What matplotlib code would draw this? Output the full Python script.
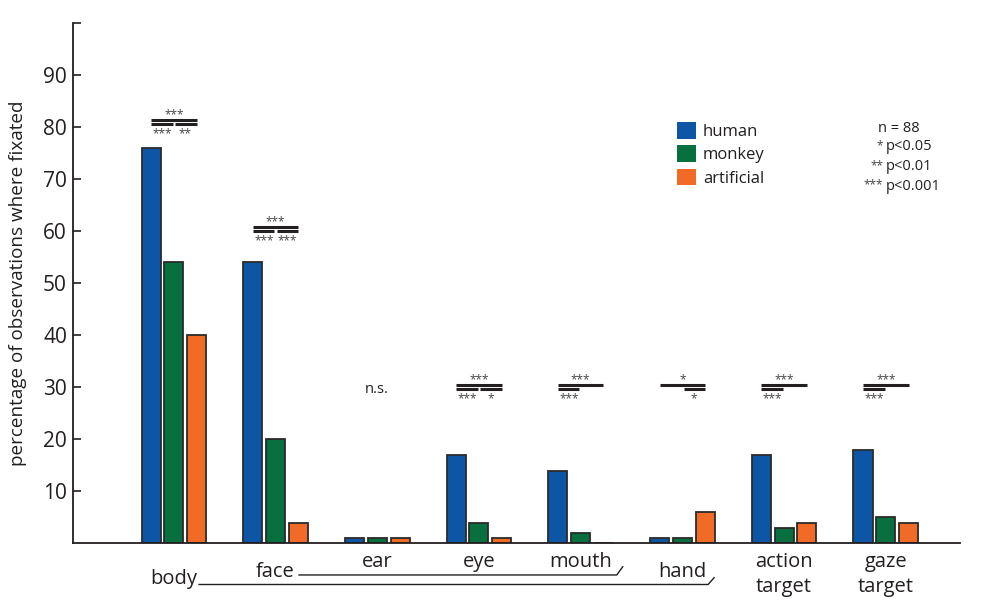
import numpy as np
import matplotlib
matplotlib.use("Agg")
import matplotlib.pyplot as plt
from matplotlib.patches import Patch

plt.rcParams['font.family'] = ['Open Sans', 'DejaVu Sans']

# data
regions = ["body", "face", "ear", "eye", "mouth", "hand", "action\ntarget", "gaze\ntarget"]
human = [76, 54, 1, 17, 14, 1, 17, 18]
monkey = [54, 20, 1, 4, 2, 1, 3, 5]
artificial = [40, 4, 1, 1, 0, 6, 4, 4]
series_names = ["human", "monkey", "artificial"]

# significance annotations: (group index, level, top, human-monkey, monkey-artificial)
sig_group = [0, 1, 3, 4, 5, 6, 7]
sig_level = [81.0, 60.4, 30.1, 30.1, 30.1, 30.1, 30.1]
sig_top = ["***", "***", "***", "***", "*", "***", "***"]
sig_hm = ["***", "***", "***", "***", None, "***", "***"]
sig_ma = ["**", "***", "*", None, "*", None, None]

colors = ["#0D56A6", "#08703E", "#F26B26"]
ink = "#231F20"

fig = plt.figure(figsize=(9.88, 6.0), dpi=100)
ax = fig.add_axes([0.0734, 0.0942, 0.8983, 0.8675])

x = np.arange(len(regions))
off = 0.224
w = 0.187
for k, vals in enumerate([human, monkey, artificial]):
    ax.bar(x + (k - 1) * off, vals, width=w, color=colors[k],
           edgecolor="#2b2b2b", linewidth=1.3, zorder=2)

ax.set_xlim(-0.996, 7.73)
ax.set_ylim(0, 100)
ax.set_yticks([10, 20, 30, 40, 50, 60, 70, 80, 90, 100])
ax.set_yticklabels(["10", "20", "30", "40", "50", "60", "70", "80", "90", ""])
ax.tick_params(axis="y", direction="in", length=6, width=1.2, color=ink,
               labelsize=15, pad=4, labelcolor=ink)
ax.set_xticks([])
for s in ["top", "right"]:
    ax.spines[s].set_visible(False)
for s in ["left", "bottom"]:
    ax.spines[s].set_color(ink)
    ax.spines[s].set_linewidth(1.3)

ax.set_ylabel("percentage of observations where fixated", fontsize=13.6, color=ink)
ax.yaxis.set_label_coords(-0.0513, 0.5)

# category labels under the axis
tr = ax.get_xaxis_transform()
label_y = [-0.0778, -0.0638, -0.0446, -0.0446, -0.0446, -0.0638, -0.0446, -0.0446]
for i, lab in enumerate(regions):
    lines = lab.split("\n")
    for j, ln in enumerate(lines):
        ax.text(i, label_y[i] - j * 0.048, ln, transform=tr, ha="center",
                va="baseline", fontsize=14.5, color=ink, clip_on=False)

# grouping brackets
ax.plot([0.248, 5.253, 5.312], [-0.0788, -0.0788, -0.0657], transform=tr,
        color=ink, lw=1.0, clip_on=False)
ax.plot([1.231, 4.355, 4.414], [-0.0605, -0.0605, -0.0446], transform=tr,
        color=ink, lw=1.0, clip_on=False)

# significance bars
star_col = "#444444"
gap = 0.012
for g, lvl, t, hm, ma in zip(sig_group, sig_level, sig_top, sig_hm, sig_ma):
    up = lvl + 0.38
    lo = lvl - 0.38
    ax.plot([g - off, g + off], [up, up], color=ink, lw=2.2, solid_capstyle="butt")
    ax.text(g, up + 0.3, t, ha="center", va="baseline", fontsize=8.5, color=star_col)
    if hm:
        ax.plot([g - off, g - gap], [lo, lo], color=ink, lw=2.2, solid_capstyle="butt")
        ax.text(g - off / 2, lo - 2.6, hm, ha="center", va="baseline",
                fontsize=8.5, color=star_col)
    if ma:
        ax.plot([g + gap, g + off], [lo, lo], color=ink, lw=2.2, solid_capstyle="butt")
        ax.text(g + off / 2, lo - 2.6, ma, ha="center", va="baseline",
                fontsize=8.5, color=star_col)

ax.text(2, 29.5, "n.s.", ha="center", va="center", fontsize=10.5, color=ink)

# legend
handles = [Patch(facecolor=c, edgecolor="none") for c in colors]
ax.legend(handles, series_names, loc="upper left",
          bbox_to_anchor=((677 - 72.5) / 887.5, (543.5 - 122) / 520.5),
          frameon=False, fontsize=12, handlelength=1.15, handleheight=1.15,
          handletextpad=0.4, labelspacing=0.33, borderpad=0, borderaxespad=0,
          labelcolor=ink)

# sample size and p-value key
fx = lambda px: px / 988
fy = lambda py: 1 - py / 600
fig.text(fx(899), fy(128), "n = 88", ha="center", va="center", fontsize=10.5, color=ink)
for stars, ptxt, py in zip(["*", "**", "***"], ["p<0.05", "p<0.01", "p<0.001"],
                           [147, 167, 186]):
    fig.text(fx(883), fy(py - 1), stars, ha="right", va="center", fontsize=8.5,
             color="#444444")
    fig.text(fx(886), fy(py), ptxt, ha="left", va="center", fontsize=10.5, color=ink)

fig.savefig("out.png", dpi=100)
